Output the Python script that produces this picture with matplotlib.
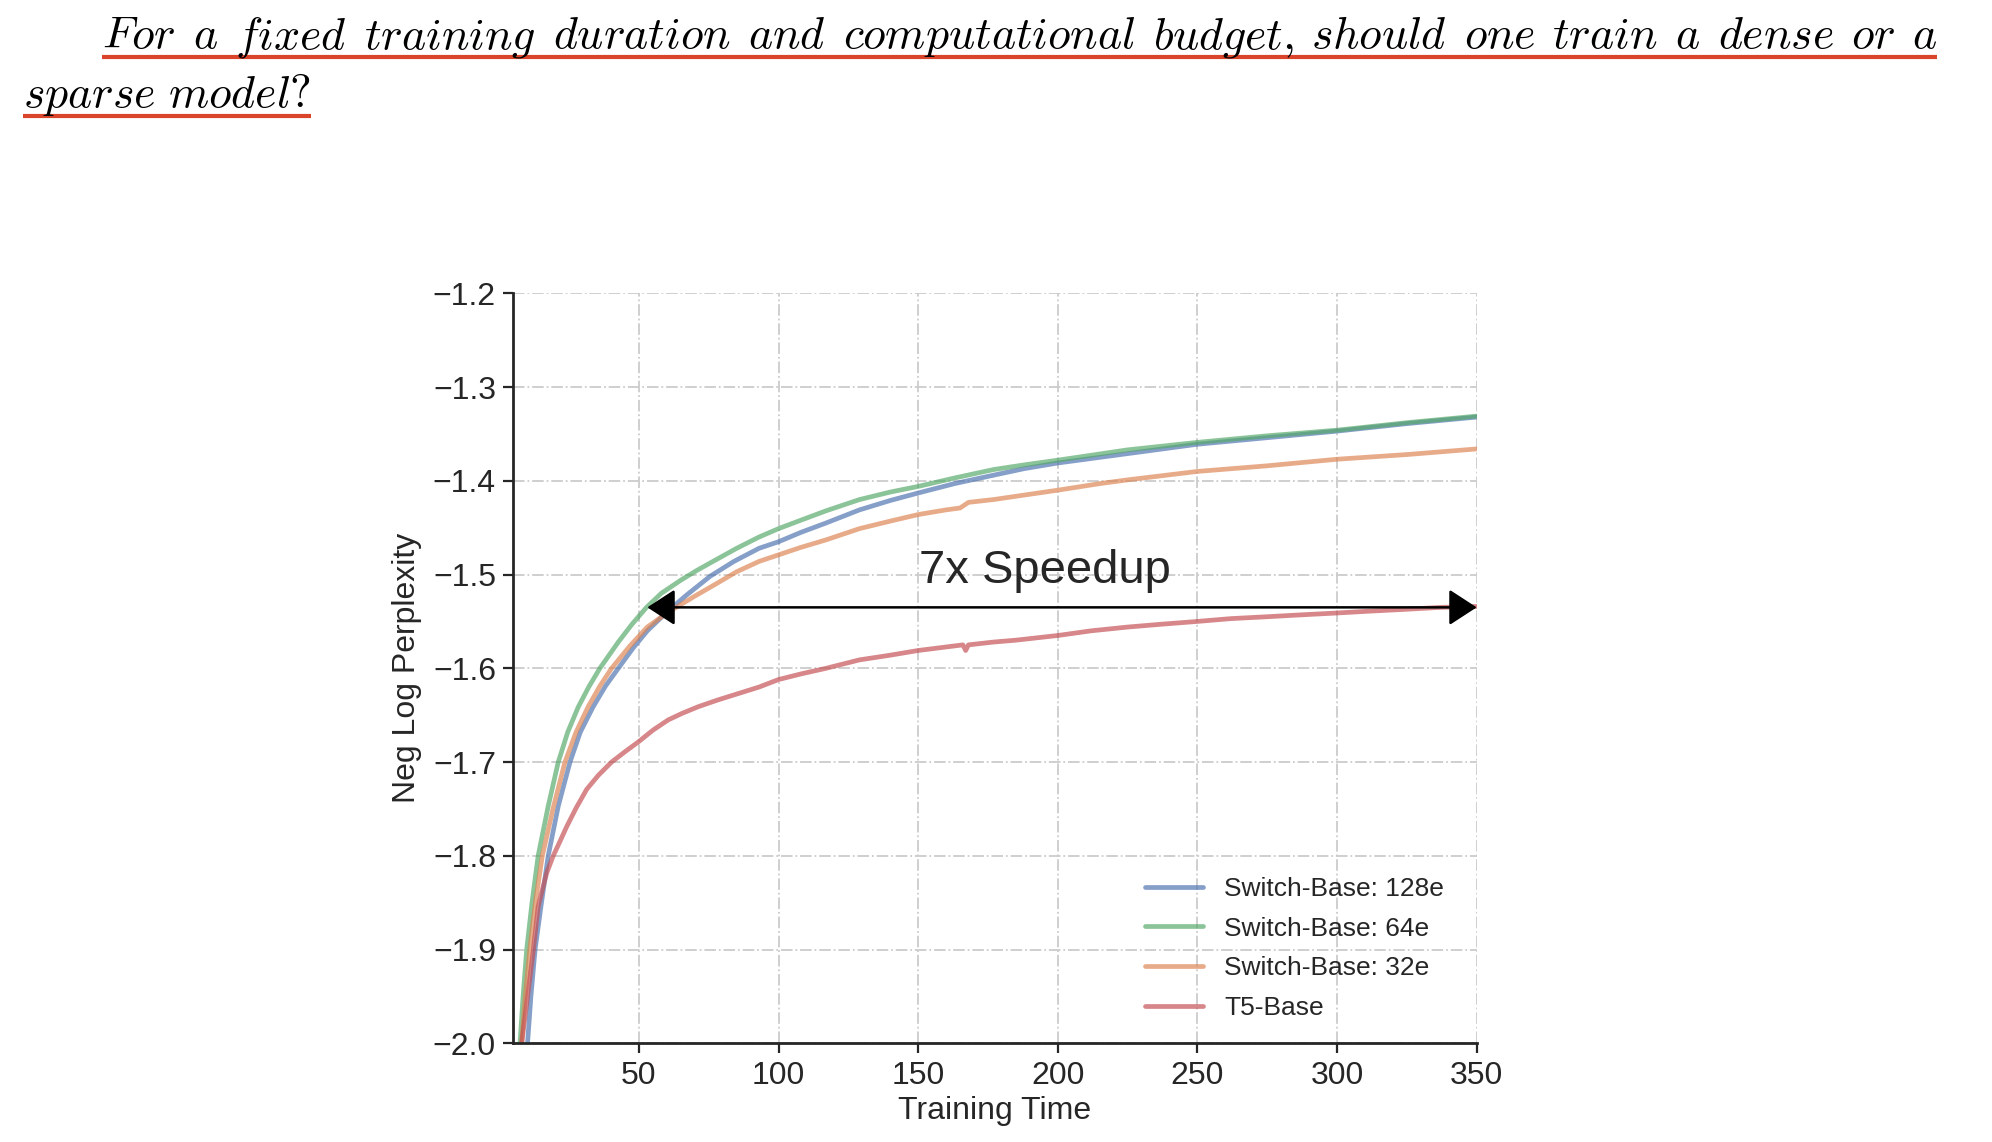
import matplotlib
matplotlib.use("Agg")
import matplotlib.pyplot as plt
from matplotlib.lines import Line2D

# ---------------- data ----------------
sb128_x = [10.1, 11.3, 12.8, 14.9, 17.5, 21.1, 25.3, 29, 33.6, 38, 42.6, 48, 53, 60, 67,
           75.4, 84, 93, 100, 108, 117, 129, 140, 150, 163, 177, 188, 200, 225, 250, 275,
           300, 325, 350]
sb128_y = [-2.0, -1.95, -1.90, -1.854, -1.80, -1.747, -1.70, -1.668, -1.641, -1.619, -1.60,
           -1.578, -1.560, -1.540, -1.522, -1.502, -1.486, -1.472, -1.465, -1.455, -1.445,
           -1.431, -1.421, -1.413, -1.403, -1.394, -1.387, -1.381, -1.371, -1.361, -1.354,
           -1.347, -1.339, -1.332]

sb64_x = [7.4, 8.5, 9.8, 11.7, 13.9, 17.5, 21.1, 24.5, 28.3, 32, 36.0, 42.6, 47.5, 52.7,
          58, 65, 70.5, 76.5, 85, 93, 100, 108, 117, 129, 140, 150, 163, 177, 188, 200,
          225, 250, 275, 300, 325, 350]
sb64_y = [-2.0, -1.95, -1.90, -1.85, -1.80, -1.747, -1.70, -1.668, -1.641, -1.62, -1.60,
          -1.572, -1.553, -1.535, -1.520, -1.506, -1.496, -1.486, -1.472, -1.460, -1.451,
          -1.442, -1.432, -1.420, -1.412, -1.406, -1.397, -1.388, -1.383, -1.378, -1.367,
          -1.359, -1.352, -1.346, -1.338, -1.331]

sb32_x = [8.0, 9.3, 10.9, 12.9, 15.4, 19.2, 23.5, 27.5, 31.8, 36, 40.2, 46.8, 53, 60, 70,
          77, 85, 93, 100, 108, 117, 129, 140, 150, 160, 165, 168, 177, 200, 215, 225, 250,
          275, 300, 325, 350]
sb32_y = [-2.0, -1.95, -1.90, -1.85, -1.80, -1.75, -1.70, -1.668, -1.641, -1.619, -1.60,
          -1.576, -1.556, -1.541, -1.523, -1.511, -1.497, -1.486, -1.479, -1.471, -1.463,
          -1.451, -1.443, -1.436, -1.431, -1.429, -1.423, -1.420, -1.410, -1.403, -1.399,
          -1.390, -1.384, -1.377, -1.372, -1.366]

t5_x = [8.0, 10.1, 12.2, 13.9, 15.5, 17.0, 19.3, 21.5, 24.1, 27.5, 31.3, 35.5, 40.2, 45,
        50, 55, 60.5, 65.5, 71.2, 78, 85.5, 93, 100, 108, 117, 129, 140, 150, 158, 166,
        167, 168, 177, 185, 200, 212, 225, 237, 250, 262, 275, 287, 300, 312, 325, 337, 350]
t5_y = [-2.0, -1.95, -1.90, -1.854, -1.835, -1.818, -1.80, -1.786, -1.769, -1.749, -1.729,
        -1.714, -1.70, -1.689, -1.678, -1.666, -1.655, -1.648, -1.641, -1.634, -1.627,
        -1.620, -1.612, -1.606, -1.600, -1.591, -1.586, -1.581, -1.578, -1.575, -1.581,
        -1.575, -1.572, -1.570, -1.565, -1.560, -1.556, -1.553, -1.550, -1.547, -1.545,
        -1.543, -1.541, -1.539, -1.537, -1.535, -1.534]

series_labels = ["Switch-Base: 128e", "Switch-Base: 64e", "Switch-Base: 32e", "T5-Base"]
series_colors = ["#4c72b0", "#55a868", "#dd8452", "#c44e52"]

x_ticks = [50, 100, 150, 200, 250, 300, 350]
y_ticks = [-2.0, -1.9, -1.8, -1.7, -1.6, -1.5, -1.4, -1.3, -1.2]

speedup_left_x = 53
speedup_right_x = 350
speedup_y = -1.535
speedup_label = "7x Speedup"

title_line1 = ["For", "a", "fixed", "training", "duration", "and", "computational",
               "budget,", "should", "one", "train", "a", "dense", "or", "a"]
title_line2 = "sparse model?"

# ---------------- figure ----------------
W, H = 1992, 1142
plt.rcParams["font.family"] = ["Liberation Sans", "DejaVu Sans"]
plt.rcParams["mathtext.fontset"] = "cm"
TXT = "#262626"

fig = plt.figure(figsize=(W / 100, H / 100), dpi=100)
ax = fig.add_axes([513.3 / W, (H - 1043.3) / H, (1476.7 - 513.3) / W, (1043.3 - 293.3) / H])

series = [(sb128_x, sb128_y), (sb64_x, sb64_y), (sb32_x, sb32_y), (t5_x, t5_y)]
for (xs, ys), lab, col in zip(series, series_labels, series_colors):
    ax.plot(xs, ys, color=col, lw=3.4, alpha=0.68, label=lab,
            solid_capstyle="round", solid_joinstyle="round")

ax.set_xlim(5, 350)
ax.set_ylim(-2.0, -1.2)
ax.set_xticks(x_ticks)
ax.set_yticks(y_ticks)
ax.set_yticklabels([f"{v:.1f}".replace("-", "\u2212") for v in y_ticks])
ax.grid(True, color="#cccccc", linestyle="-.", lw=1.3)
ax.set_axisbelow(True)
for s in ["top", "right"]:
    ax.spines[s].set_visible(False)
for s in ["left", "bottom"]:
    ax.spines[s].set_color(TXT)
    ax.spines[s].set_linewidth(2.0)
ax.tick_params(axis="both", length=7.5, width=1.6, color=TXT, labelcolor=TXT,
               labelsize=23, pad=5)
ax.set_xlabel("Training Time", fontsize=23, color=TXT, labelpad=4)
ax.set_ylabel("Neg Log Perplexity", fontsize=23, color=TXT, labelpad=8)

ax.annotate("", xy=(speedup_right_x, speedup_y), xytext=(speedup_left_x, speedup_y),
            arrowprops=dict(arrowstyle="<|-|>,head_length=0.4,head_width=0.26",
                            mutation_scale=43, lw=1.8, color="black",
                            shrinkA=0, shrinkB=0))
ax.text(195.3, -1.509, speedup_label, fontsize=34, color=TXT, ha="center", va="baseline")

ax.legend(loc="lower right", frameon=False, fontsize=19, handlelength=2.2,
          handletextpad=0.8, labelspacing=0.6, bbox_to_anchor=(0.985, 0.006),
          borderaxespad=0.3, labelcolor=TXT)

# ---------------- title (justified first line, underlined) ----------------
renderer = fig.canvas.get_renderer()
RED = "#d9442b"
TS = 33
X0, X1 = 102, 1937
y1 = 1 - 48 / H
words = [fig.text(0, y1, r"$\mathit{" + w + "}$", fontsize=TS, va="baseline", ha="left")
         for w in title_line1]
widths = [t.get_window_extent(renderer).width for t in words]
gap = (X1 - X0 - sum(widths)) / (len(words) - 1)
x = X0
for t, w in zip(words, widths):
    t.set_x(x / W)
    x += w + gap
fig.add_artist(Line2D([X0 / W, X1 / W], [1 - 56.5 / H] * 2, transform=fig.transFigure,
                      color=RED, lw=3.0, solid_capstyle="butt"))

y2 = 1 - 107 / H
t2 = fig.text(23 / W, y2, r"$\mathit{" + title_line2.replace(" ", r"\ ") + "}$",
              fontsize=TS, va="baseline", ha="left")
bb = t2.get_window_extent(renderer)
fig.add_artist(Line2D([23 / W, bb.x1 / W], [1 - 116 / H] * 2, transform=fig.transFigure,
                      color=RED, lw=3.0, solid_capstyle="butt"))

fig.savefig("out.png", dpi=100)
